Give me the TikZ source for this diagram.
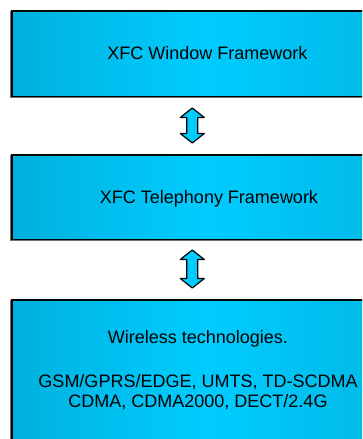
\documentclass[tikz,border=0pt]{standalone}
\usepackage{fontspec}
\setmainfont{Liberation Sans}
\definecolor{edgeblue}{RGB}{0,150,190}
\definecolor{midblue}{RGB}{0,204,255}
\definecolor{rightblue}{RGB}{0,162,202}
\definecolor{arrowblue}{RGB}{0,204,255}
\pgfdeclarehorizontalshading{layershade}{100bp}{%
  color(0bp)=(edgeblue); color(50bp)=(midblue); color(100bp)=(rightblue)}
\tikzset{
  layerbox/.style={draw=none, anchor=north west,
    minimum width=390pt, inner sep=0pt, shading=layershade},
  boxedge/.style={draw=black, line width=1.2pt, line cap=rect},
  boxshadow/.style={draw=black!55, line width=1pt},
  layertext/.style={anchor=base, font=\fontsize{18}{20}\selectfont, text=black, inner sep=0pt},
  blockarrow/.style={draw=black, line width=1.2pt, fill=arrowblue, line join=round},
  % double-headed block arrow centred on the pic origin; argument is half its length
  pics/updown/.style={code={
    \path[blockarrow] (0,#1) -- (12,#1-9.5) -- (5.5,#1-9.5)
      -- (5.5,-#1+9.5) -- (12,-#1+9.5) -- (0,-#1)
      -- (-12,-#1+9.5) -- (-5.5,-#1+9.5) -- (-5.5,#1-9.5)
      -- (-12,#1-9.5) -- cycle;
  }}
}
\begin{document}
\begin{tikzpicture}[x=1pt, y=1pt]
  \useasboundingbox (0,0) rectangle (362,439);
  \clip (0,0) rectangle (362,439);

  % three stacked layers; they run on past the right margin
  \node[layerbox, minimum height=85pt] (win) at (12,428) {};
  \node[layerbox, minimum height=84pt] (tel) at (12,284) {};
  \node[layerbox, minimum height=150pt] (wl) at (12,139) {};

  % thin shadow along the left and bottom edges
  \draw[boxshadow] ([shift={(-1.2,0)}]win.north west) -- ([shift={(-1.2,-1.2)}]win.south west) -- ([shift={(0,-1.2)}]win.south east);
  \draw[boxshadow] ([shift={(-1.2,0)}]tel.north west) -- ([shift={(-1.2,-1.2)}]tel.south west) -- ([shift={(0,-1.2)}]tel.south east);
  \draw[boxshadow] ([shift={(-1.2,0)}]wl.north west) -- ([shift={(-1.2,-1.2)}]wl.south west);

  % outlines (top, left, bottom)
  \draw[boxedge] (win.north east) -- (win.north west) -- (win.south west) -- (win.south east);
  \draw[boxedge] (tel.north east) -- (tel.north west) -- (tel.south west) -- (tel.south east);
  \draw[boxedge] (wl.north east) -- (wl.north west) -- (wl.south west);

  % layer captions
  \node[layertext] (wintext) at (207.5,379) {XFC Window Framework};
  \node[layertext] (teltext) at (209,235) {XFC Telephony Framework};
  \node[layertext] (wltitle) at (198,95) {Wireless technologies.};
  \node[layertext] (wlline1) at (198,51) {GSM/GPRS/EDGE, UMTS, TD-SCDMA};
  \node[layertext] (wlline2) at (198,31) {CDMA, CDMA2000, DECT/2.4G};

  % links between the layers
  \coordinate (a1) at (192.3,313.5);
  \coordinate (a2) at (192.3,170);
  \pic at (a1) {updown=17.5};
  \pic at (a2) {updown=19};
\end{tikzpicture}
\end{document}
